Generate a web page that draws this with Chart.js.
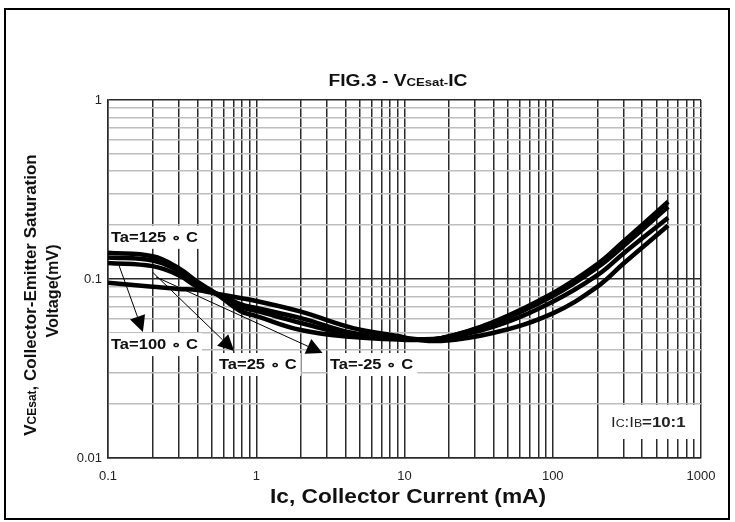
<!DOCTYPE html>
<html>
<head>
<meta charset="utf-8">
<script src="https://cdn.jsdelivr.net/npm/chart.js@4.4.1/dist/chart.umd.min.js"></script>
<style>
    html, body { margin: 0; padding: 0; background: #fff; }
    #wrap { width: 735px; height: 522px; position: relative; }
</style>
</head>
<body>
<div id="wrap"><canvas id="chartVce"></canvas></div>
<script>
// Ic (mA) e VCEsat
const correntes = [0.1, 0.2, 0.3, 0.4, 0.53, 0.78, 1, 2, 4.5, 9, 11.4, 17.7, 40, 100, 200, 300, 600];
const vce125 = [0.140, 0.134, 0.115, 0.0966, 0.0835, 0.0663, 0.0621, 0.0519, 0.0474, 0.0459, 0.0456, 0.0467, 0.0577, 0.0832, 0.121, 0.162, 0.270];
const vce100 = [0.132, 0.127, 0.111, 0.0950, 0.0833, 0.0698, 0.0663, 0.0568, 0.0486, 0.0468, 0.0459, 0.0467, 0.0568, 0.0804, 0.116, 0.153, 0.253];
const vce25 = [0.123, 0.118, 0.105, 0.0906, 0.0831, 0.0725, 0.0689, 0.0605, 0.0499, 0.0474, 0.0462, 0.0467, 0.0542, 0.0747, 0.105, 0.139, 0.220];
const vceM25 = [0.0953, 0.0906, 0.0880, 0.0868, 0.0830, 0.0783, 0.0754, 0.0657, 0.0532, 0.0481, 0.0462, 0.0451, 0.0501, 0.0643, 0.0906, 0.122, 0.199];

const xTickLabels = ["0.1", "1", "10", "100", "1000"];
const yTickLabels = ["0.01", "0.1", "1"];

// rótulos das curvas: [texto, Ic, V]
const rotulos = [
    ["Ta=125 \u2218 C", 0.1, 0.172],
    ["Ta=100 \u2218 C", 0.1, 0.0433],
    ["Ta=25 \u2218 C", 0.535, 0.0335],
    ["Ta=-25 \u2218 C", 3.0, 0.0335],
];
// setas: [Ic0, V0, Ic1, V1]
const setas = [
    [0.117, 0.123, 0.172, 0.0506],
    [0.2, 0.109, 0.71, 0.0396],
    [0.211, 0.1026, 2.8, 0.0386],
];

function ticksLog(min, max) {
    const t = [];
    for (let d = min; d < max; d *= 10) {
        for (let k = 1; k < 10; k++) t.push(+(d * k).toPrecision(3));
    }
    t.push(max);
    return t;
}
function isDecada(v) {
    const l = Math.log10(v);
    return Math.abs(l - Math.round(l)) < 1e-6;
}

function serie(valores) {
    return {
        data: correntes.map((c, i) => ({ x: c, y: valores[i] })),
        borderColor: "#000",
        borderWidth: 4.5,
        pointRadius: 0,
        tension: 0.4,
        fill: false,
    };
}

// texto com partes de tamanhos diferentes, esticado na horizontal por k
function textoMisto(ctx, partes, x, y, align, k) {
    k = k || 1;
    let total = 0;
    partes.forEach((p) => {
        ctx.font = p[1];
        total += ctx.measureText(p[0]).width;
    });
    ctx.save();
    ctx.translate(x, y);
    ctx.scale(k, 1);
    let px = align === "center" ? -total / 2 : 0;
    ctx.textAlign = "left";
    partes.forEach((p) => {
        ctx.font = p[1];
        ctx.fillText(p[0], px, 0);
        px += ctx.measureText(p[0]).width;
    });
    ctx.restore();
    return total * k;
}

const decoracao = {
    id: "decoracao",
    beforeDraw(chart) {
        const ctx = chart.ctx;
        ctx.save();
        ctx.fillStyle = "#fff";
        ctx.fillRect(0, 0, chart.width, chart.height);
        ctx.restore();
    },
    afterDraw(chart) {
        const ctx = chart.ctx;
        const sx = chart.scales.x;
        const sy = chart.scales.y;
        const area = chart.chartArea;
        const fam = "'Liberation Sans', Arial, sans-serif";
        ctx.save();

        // moldura externa
        ctx.strokeStyle = "#000";
        ctx.lineWidth = 2;
        ctx.strokeRect(5, 9, 724, 510);

        // título
        ctx.fillStyle = "#111";
        ctx.textBaseline = "alphabetic";
        textoMisto(ctx, [
            ["FIG.3 - V", "bold 16px " + fam],
            ["CEsat-", "bold 11px " + fam],
            ["IC", "bold 16px " + fam],
        ], 398, 86, "center", 1.2);

        // título eixo x
        textoMisto(ctx, [["Ic, Collector Current (mA)", "bold 21px " + fam]], 408, 503, "center", 1.08);

        // título eixo y
        ctx.save();
        ctx.translate(36, 295);
        ctx.rotate(-Math.PI / 2);
        textoMisto(ctx, [
            ["V", "bold 17px " + fam],
            ["CEsat", "bold 12px " + fam],
            [", Collector-Emitter Saturation", "bold 17px " + fam],
        ], 0, 0, "center", 1);
        textoMisto(ctx, [["Voltage(mV)", "bold 17px " + fam]], 4, 22, "center", 0.95);
        ctx.restore();

        // setas
        ctx.strokeStyle = "#000";
        ctx.fillStyle = "#000";
        ctx.lineWidth = 1;
        setas.forEach((s) => {
            const x0 = sx.getPixelForValue(s[0]);
            const y0 = sy.getPixelForValue(s[1]);
            const x1 = sx.getPixelForValue(s[2]);
            const y1 = sy.getPixelForValue(s[3]);
            const ang = Math.atan2(y1 - y0, x1 - x0);
            const len = 16;
            const bx = x1 - len * Math.cos(ang);
            const by = y1 - len * Math.sin(ang);
            ctx.beginPath();
            ctx.moveTo(x0, y0);
            ctx.lineTo(bx, by);
            ctx.stroke();
            ctx.beginPath();
            ctx.moveTo(x1, y1);
            ctx.lineTo(bx + 8 * Math.sin(ang), by - 8 * Math.cos(ang));
            ctx.lineTo(bx - 8 * Math.sin(ang), by + 8 * Math.cos(ang));
            ctx.closePath();
            ctx.fill();
        });

        // rótulos de temperatura
        ctx.textBaseline = "middle";
        rotulos.forEach((r) => {
            const x = sx.getPixelForValue(r[1]);
            const y = sy.getPixelForValue(r[2]);
            ctx.font = "bold 14px " + fam;
            const w = ctx.measureText(r[0]).width * 1.18;
            ctx.fillStyle = "#fff";
            ctx.fillRect(x + 1, y - 11, w + 6, 23);
            ctx.fillStyle = "#111";
            textoMisto(ctx, [[r[0], "bold 14px " + fam]], x + 3, y + 1, "left", 1.18);
        });

        // Ic:IB=10:1
        ctx.fillStyle = "#fff";
        ctx.fillRect(area.right - 99, 405, 98, 34);
        ctx.fillStyle = "#222";
        ctx.textBaseline = "alphabetic";
        textoMisto(ctx, [
            ["I", "15px " + fam],
            ["C", "11px " + fam],
            [":I", "15px " + fam],
            ["B", "11px " + fam],
            ["=10:1", "bold 15px " + fam],
        ], area.right - 90, 427, "left", 1.12);

        ctx.restore();
    },
};

new Chart(document.getElementById("chartVce"), {
    type: "line",
    data: {
        datasets: [serie(vce125), serie(vce100), serie(vce25), serie(vceM25)],
    },
    options: {
        responsive: true,
        maintainAspectRatio: false,
        animation: false,
        layout: { padding: { left: 0, top: 100, right: 34, bottom: 0 } },
        plugins: {
            legend: { display: false },
            tooltip: { enabled: false },
        },
        scales: {
            x: {
                type: "logarithmic",
                min: 0.1,
                max: 1000,
                afterBuildTicks: (s) => {
                    s.ticks = ticksLog(0.1, 1000).map((v) => ({ value: v }));
                },
                afterFit: (s) => { s.height = 64; },
                grid: {
                    color: "#2a2a2a",
                    lineWidth: 1.5,
                    drawTicks: false,
                },
                border: { color: "#2a2a2a", width: 1.5 },
                ticks: {
                    autoSkip: false,
                    maxRotation: 0,
                    padding: 11,
                    color: "#222",
                    font: { family: "'Liberation Sans', Arial", size: 13 },
                    callback: (v) => {
                        const i = xTickLabels.indexOf(String(+v));
                        return i >= 0 ? xTickLabels[i] : "";
                    },
                },
            },
            y: {
                type: "logarithmic",
                min: 0.01,
                max: 1,
                afterBuildTicks: (s) => {
                    s.ticks = ticksLog(0.01, 1).map((v) => ({ value: v }));
                },
                afterFit: (s) => { s.width = 108; },
                grid: {
                    color: (c) => (c.tick && isDecada(c.tick.value) ? "#2a2a2a" : "#bdbdbd"),
                    lineWidth: 1.5,
                    drawTicks: false,
                },
                border: { color: "#2a2a2a", width: 1.5 },
                ticks: {
                    autoSkip: false,
                    padding: 6,
                    color: "#222",
                    font: { family: "'Liberation Sans', Arial", size: 13 },
                    callback: (v) => {
                        const i = yTickLabels.indexOf(String(+v));
                        return i >= 0 ? yTickLabels[i] : "";
                    },
                },
            },
        },
    },
    plugins: [decoracao],
});
</script>
</body>
</html>
